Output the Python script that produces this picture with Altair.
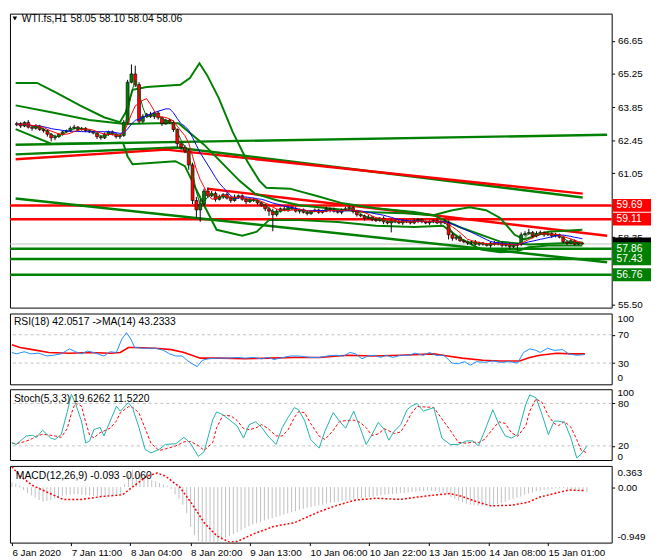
import altair as alt
import pandas as pd

# ---------------- data ----------------
first_open = 63.10
close = [
    63.15, 63.05, 63.20, 63.00, 62.95, 63.05, 62.90, 62.85, 62.70, 62.55,
    62.60, 62.70, 62.80, 62.85, 62.95, 63.00, 62.90, 62.95, 62.85, 62.80,
    62.75, 62.60, 62.55, 62.70, 62.80, 62.70, 62.60, 62.65, 63.20, 64.90,
    65.25, 64.80, 63.25, 63.45, 63.55, 63.45, 63.60, 63.40, 63.15, 63.30,
    63.20, 62.90, 62.30, 62.15, 62.00, 61.40, 59.90, 59.50, 59.75, 60.30,
    60.10, 60.20, 59.95, 60.05, 60.15, 60.00, 59.90, 60.05, 60.10, 59.95,
    59.85, 59.95, 59.90, 59.80, 59.70, 59.55, 59.45, 59.30, 59.45, 59.55,
    59.50, 59.60, 59.55, 59.45, 59.50, 59.40, 59.35, 59.45, 59.50, 59.40,
    59.45, 59.55, 59.50, 59.45, 59.40, 59.50, 59.55, 59.60, 59.45, 59.30,
    59.25, 59.15, 59.20, 59.10, 59.05, 59.15, 59.00, 58.95, 59.05, 59.00,
    58.95, 59.05, 59.00, 58.95, 59.05, 59.10, 59.00, 58.95, 59.00, 59.05,
    58.95, 59.00, 58.95, 58.45, 58.30, 58.35, 58.20, 58.15, 58.10, 58.15,
    58.05, 58.10, 58.05, 58.00, 58.10, 58.05, 58.10, 58.00, 58.05, 57.95,
    58.00, 58.05, 58.45, 58.50, 58.55, 58.40, 58.50, 58.55, 58.45, 58.50,
    58.40, 58.45, 58.35, 58.15, 58.10, 58.20, 58.05, 58.10, 58.06,
]
up_wick = [
    .08, .06, .05, .10, .06, .08, .05, .05, .06, .05,
    .08, .05, .06, .05, .08, .10, .05, .06, .05, .05,
    .06, .05, .05, .08, .05, .06, .05, .05, .10, .10,
    .40, .35, .10, .10, .05, .10, .06, .08, .05, .06,
    .05, .08, .05, .05, .10, .08, .10, .15, .20, .10,
    .15, .10, .08, .10, .06, .10, .08, .10, .05, .06,
    .08, .05, .06, .05, .05, .06, .08, .10, .08, .05,
    .10, .05, .06, .08, .05, .06, .05, .05, .06, .05,
    .06, .08, .05, .10, .05, .06, .08, .10, .05, .06,
    .05, .05, .10, .05, .06, .05, .08, .05, .06, .05,
    .08, .05, .06, .05, .10, .06, .05, .05, .06, .05,
    .08, .06, .10, .10, .08, .06, .10, .05, .06, .05,
    .08, .06, .05, .06, .05, .08, .05, .06, .05, .05,
    .06, .05, .10, .10, .15, .06, .10, .08, .05, .06,
    .05, .08, .05, .06, .05, .08, .05, .04, .04,
]
down_wick = [
    .06, .08, .05, .06, .10, .05, .06, .08, .10, .15,
    .10, .05, .06, .05, .06, .05, .08, .05, .06, .05,
    .05, .10, .08, .05, .06, .05, .08, .10, .06, .10,
    .05, .10, .10, .08, .05, .06, .10, .08, .10, .05,
    .06, .10, .15, .10, .10, .20, .15, .35, .50, .08,
    .10, .06, .10, .05, .08, .06, .10, .05, .08, .06,
    .10, .05, .06, .08, .06, .10, .20, .70, .08, .06,
    .05, .08, .05, .06, .10, .05, .08, .06, .05, .06,
    .05, .05, .10, .06, .05, .08, .05, .06, .10, .08,
    .06, .10, .05, .08, .06, .05, .10, .06, .40, .06,
    .05, .08, .05, .06, .05, .10, .06, .05, .08, .06,
    .05, .08, .05, .20, .10, .08, .06, .05, .08, .06,
    .05, .08, .06, .05, .10, .06, .05, .08, .06, .10,
    .06, .20, .08, .06, .05, .10, .06, .05, .08, .05,
    .08, .06, .05, .06, .08, .05, .06, .04, .03,
]

x_ticks = [0, 15.25, 30.5, 46, 61.25, 76.75, 92, 107.25, 122.75, 138]
x_labels = ["6 Jan 2020", "7 Jan 11:00", "8 Jan 04:00", "8 Jan 20:00", "9 Jan 13:00",
            "10 Jan 06:00", "10 Jan 22:00", "13 Jan 15:00", "14 Jan 08:00", "15 Jan 01:00"]
price_ticks = [66.65, 65.25, 63.85, 62.45, 61.05, 59.65, 58.35, 55.50]

red_levels = [59.69, 59.11]
green_levels = [57.86, 57.43, 56.76]
bid_price = 58.06

# band / average curves (bar, price)
band_upper = [(-0.3, 64.87), (5.3, 64.87), (10.3, 64.46), (16.5, 63.92), (22.8, 63.42), (27, 63.21),
              (28.5, 63.63), (30.3, 64.58), (34, 64.70), (42.8, 64.79), (45.3, 65.08), (47.8, 65.70),
              (49.8, 65.20), (52.8, 64.25), (56.5, 62.80), (60.3, 61.56), (63.5, 60.73), (65.3, 60.44),
              (71.5, 60.40), (79, 60.07), (85.3, 59.78), (94, 59.57), (104, 59.41), (109, 59.28),
              (114, 59.49), (118.5, 59.61), (122.8, 59.49), (126.5, 59.16), (130.3, 58.45),
              (132.8, 58.25), (139, 58.58), (148, 58.66)]
band_lower = [(-0.3, 62.92), (9, 62.30), (27.8, 62.34), (29, 61.76), (30.3, 61.43), (41.5, 61.56),
              (44, 61.35), (46.5, 60.52), (49, 59.70), (52.3, 58.66), (59, 58.41), (62.8, 58.58),
              (66, 59.07), (74, 59.07), (84, 58.99), (94, 58.83), (104, 58.78), (111.5, 58.83),
              (116.5, 58.25), (121.5, 57.83), (126.5, 57.71), (130.8, 57.75), (134, 57.92),
              (139, 58.00), (148, 58.00)]
slow_avg = [(-0.3, 63.92), (9, 63.63), (19, 63.30), (28.3, 63.13), (36.5, 63.17), (42.3, 63.17),
            (49, 62.26), (58.3, 60.73), (62.3, 60.19), (68.3, 59.90), (74, 59.70), (90.8, 59.41),
            (101.5, 59.36), (109, 59.28), (115.8, 58.78), (126.5, 58.16), (134, 58.04), (148, 58.12)]

trend_green_1 = [(-0.3, 62.26), (154.5, 62.68)]
trend_green_2 = [(-0.3, 61.85), (41.6, 62.14), (148.1, 60.03)]
trend_red_1 = [(-0.3, 61.64), (39.1, 62.05), (148.1, 60.19)]
trend_green_3 = [(-0.3, 59.98), (154.5, 57.29)]
trend_red_2 = [(49.9, 60.40), (154.5, 58.41)]

rsi_line = [(0, 45), (1.1, 43), (3.2, 46), (4.8, 43), (6.9, 44), (9, 40), (10.6, 41), (12.7, 43),
            (14.8, 50), (16.4, 46), (17.9, 43), (19.5, 47), (21.6, 44), (23.7, 40), (25.3, 46),
            (26.9, 45), (28.3, 64), (29.5, 73), (30.6, 64), (31.6, 52), (33.7, 51), (36.9, 51),
            (39, 48), (40.6, 43), (42.2, 40), (43.8, 40), (45.3, 33), (46.4, 29), (47.7, 25),
            (49, 34), (50.6, 36), (52.7, 37), (55.9, 37), (58, 38), (60.1, 37), (62.2, 38),
            (64.3, 36), (65.9, 38), (67.5, 35), (69, 37), (71.7, 40), (73.8, 40), (76.9, 38),
            (79.1, 38), (81.2, 40), (83.3, 41), (85.4, 40), (87, 45), (88.5, 43), (90.1, 36),
            (91.7, 40), (93.3, 41), (94.9, 38), (96.4, 41), (98, 38), (100.1, 41), (102.2, 41),
            (103.8, 44), (105.9, 41), (107.5, 45), (109.1, 41), (111.2, 41), (113.3, 30),
            (114.9, 29), (116.5, 32), (118, 27), (119.6, 32), (121.7, 31), (123.8, 33),
            (125.9, 31), (128.1, 32), (130.2, 30), (131.7, 45), (133.3, 50), (134.9, 48),
            (136, 45), (137.9, 51), (139.6, 48), (141.8, 49), (143.3, 43), (145.4, 41), (147.5, 42)]
rsi_avg = [(0, 56), (2.1, 52), (5.3, 49), (9.5, 45), (14.8, 44), (20, 45), (25.3, 44), (27.9, 45),
           (30, 52), (31.6, 52), (36.9, 51), (41.1, 49), (44.3, 45), (48.5, 37), (53.8, 37),
           (60.1, 36), (66.4, 37), (72.7, 38), (79.1, 38), (86.4, 41), (92.7, 40), (100.1, 41),
           (108.6, 43), (112.2, 40), (115.9, 37), (121.2, 34), (125.4, 33), (130.7, 33),
           (133.3, 38), (135.9, 41), (140.2, 44), (144.4, 43), (147.5, 43)]

stoch_main = [(0, 24), (1.1, 22), (3.7, 34), (5.3, 35), (6.3, 32), (7.9, 42), (10, 31), (11.1, 29),
              (12.7, 36), (14.2, 67), (15.3, 93), (16.3, 81), (17.9, 55), (19, 24), (20, 27),
              (21.1, 43), (22.7, 46), (23.7, 34), (25.3, 55), (26.9, 76), (27.9, 69), (30, 81),
              (31.1, 73), (32.7, 46), (34.3, 15), (35.8, 10), (37.9, 15), (39.5, 22), (42.2, 23),
              (44.3, 32), (45.9, 24), (48, 5), (49.5, 12), (51.7, 57), (52.7, 68), (54.3, 64),
              (56.4, 55), (58, 48), (59.6, 31), (61.1, 50), (62.7, 54), (64.3, 46), (65.9, 34),
              (68, 22), (69.6, 46), (71.1, 60), (72.7, 74), (73.8, 71), (75.4, 55), (76.9, 29),
              (79.1, 17), (80.6, 41), (82.7, 67), (84.3, 55), (85.9, 45), (88, 69), (89.6, 46),
              (91.2, 22), (92.7, 36), (94.3, 53), (95.9, 43), (97, 28), (98.5, 41), (100.1, 50),
              (101.7, 71), (102.8, 76), (104.3, 80), (105.9, 69), (108.6, 74), (110.7, 31),
              (112.8, 22), (114.9, 22), (117, 27), (118.6, 27), (120.1, 20), (121.7, 41),
              (123.8, 71), (125.4, 50), (127, 34), (128.6, 31), (130.2, 36), (132.3, 79),
              (133.3, 92), (134.9, 88), (136.5, 64), (138.1, 36), (139.6, 55), (140.7, 55),
              (142.3, 53), (143.9, 31), (145.4, 3), (146.5, 8), (148, 19.6)]

macd_hist = [
    0.08, 0.06, 0.03, -0.05, -0.10, -0.14, -0.18, -0.22, -0.25, -0.24,
    -0.22, -0.20, -0.17, -0.15, -0.14, -0.13, -0.12, -0.12, -0.13, -0.14,
    -0.14, -0.15, -0.16, -0.16, -0.15, -0.14, -0.13, -0.12, -0.11, 0.05,
    0.22, 0.30, 0.27, 0.22, 0.18, 0.15, 0.12, 0.10, 0.07, 0.05,
    0.02, -0.03, -0.12, -0.20, -0.30, -0.45, -0.68, -0.82, -0.92, -0.96,
    -0.97, -0.96, -0.95, -0.93, -0.90, -0.87, -0.84, -0.80, -0.77, -0.74,
    -0.70, -0.67, -0.64, -0.62, -0.60, -0.57, -0.55, -0.53, -0.51, -0.49,
    -0.47, -0.45, -0.43, -0.41, -0.39, -0.37, -0.35, -0.34, -0.32, -0.31,
    -0.30, -0.28, -0.27, -0.26, -0.25, -0.24, -0.23, -0.22, -0.21, -0.20,
    -0.19, -0.18, -0.17, -0.16, -0.15, -0.14, -0.13, -0.12, -0.12, -0.11,
    -0.10, -0.10, -0.09, -0.08, -0.08, -0.07, -0.07, -0.06, -0.06, -0.07,
    -0.08, -0.10, -0.13, -0.17, -0.20, -0.23, -0.26, -0.28, -0.30, -0.31,
    -0.32, -0.32, -0.32, -0.31, -0.30, -0.29, -0.27, -0.25, -0.22, -0.20,
    -0.18, -0.16, -0.13, -0.11, -0.09, -0.07, -0.06, -0.05, -0.04, -0.03,
    -0.02, -0.02, -0.02, -0.03, -0.04, -0.05, -0.06, -0.08, -0.09,
]
macd_signal = [(0, 0.35), (2.1, 0.19), (5.3, 0.03), (9.5, -0.10), (13.2, -0.21), (17.9, -0.21),
               (23.2, -0.16), (28.5, -0.13), (31.6, 0.03), (34.8, 0.19), (37.4, 0.24), (39.5, 0.19),
               (43.2, 0.0), (46.4, -0.29), (49.5, -0.61), (52.7, -0.83), (55.9, -0.94), (58, -0.93),
               (62.2, -0.80), (67.5, -0.67), (72.7, -0.61), (79.1, -0.42), (83.3, -0.32),
               (88.5, -0.22), (93.8, -0.19), (100.1, -0.21), (104.3, -0.17), (109.6, -0.13),
               (112.8, -0.11), (115.9, -0.16), (120.1, -0.26), (123.3, -0.32), (128.6, -0.31),
               (132.8, -0.26), (135.9, -0.17), (140.2, -0.10), (143.3, -0.05), (147.5, -0.06)]

title_text = "WTI.fs,H1  58.05 58.10 58.04 58.06"
rsi_text = "RSI(18) 42.0517  ->MA(14) 43.2333"
stoch_text = "Stoch(5,3,3) 19.6262 11.5220"
macd_text = "MACD(12,26,9) -0.093 -0.060"

# edge labels of the sub-windows: (text, offset from panel top in px)
rsi_edge = [("100", 6), ("0", 66)]
stoch_edge = [("100", 4), ("0", 69)]
macd_edge = [("0.363", 7), ("-0.949", 72)]

# ---------------- tables ----------------
n = len(close)
opens = [first_open] + close[:-1]
candles = pd.DataFrame({
    "bar": list(range(n)),
    "open": opens,
    "close": close,
    "high": [max(o, c) + u for o, c, u in zip(opens, close, up_wick)],
    "low": [min(o, c) - d for o, c, d in zip(opens, close, down_wick)],
})
hist_df = pd.DataFrame({"bar": list(range(n)), "h": macd_hist, "zero": [0.0] * n})

FONT = "Liberation Sans"
W = 612
GREEN = "#008000"
RED = "#ff0000"

xs = alt.Scale(domain=[-0.5, 154.4], nice=False, zero=False)


def X(field="bar", axis=None):
    return alt.X(f"{field}:Q", scale=xs, axis=axis)


ys_main = alt.Scale(domain=[55.37, 67.80], nice=False, zero=False)
axis_main = alt.Axis(orient="right", values=price_ticks, format=".2f", tickSize=3, title=None,
                     labelOverlap=False, labelFlush=False, labelPadding=3)


def YM(field):
    return alt.Y(f"{field}:Q", scale=ys_main, axis=axis_main)


def pts_df(pts):
    return pd.DataFrame(pts, columns=["bar", "v"])


def curve(pts, color, width, yfun, dash=None, xaxis=None):
    kw = dict(color=color, strokeWidth=width, clip=True)
    if dash:
        kw["strokeDash"] = dash
    return alt.Chart(pts_df(pts)).mark_line(**kw).encode(x=X(axis=xaxis), y=yfun("v"))


def panel_text(txt, x, y):
    return alt.Chart(pd.DataFrame({"t": [txt]})).mark_text(
        align="left", baseline="middle", fontSize=10.5, color="black").encode(
        x=alt.value(x), y=alt.value(y), text="t:N")


def edge_labels(items):
    df = pd.DataFrame(items, columns=["t", "py"])
    return alt.Chart(df).mark_text(align="left", baseline="middle", fontSize=10,
                                   color="black").encode(
        x=alt.value(W + 6), y=alt.Y("py:Q", scale=None), text="t:N")


# ---------------- main panel ----------------
levels = pd.DataFrame({"price": red_levels + green_levels,
                       "col": [RED] * len(red_levels) + [GREEN] * len(green_levels)})
level_rules = alt.Chart(levels).mark_rule(strokeWidth=2.5).encode(
    y=YM("price"), color=alt.Color("col:N", scale=None))
bid_rule = alt.Chart(pd.DataFrame({"price": [bid_price]})).mark_rule(
    color="#c0c0c0", strokeWidth=1).encode(y=YM("price"))

trend_layers = [
    curve(trend_green_1, GREEN, 2.5, YM),
    curve(trend_green_2, GREEN, 2.5, YM),
    curve(trend_red_1, RED, 2.5, YM),
    curve(trend_green_3, GREEN, 2.5, YM),
    curve(trend_red_2, RED, 2.5, YM),
]
band_layers = [
    curve(band_upper, GREEN, 2, YM),
    curve(band_lower, GREEN, 2, YM),
    curve(slow_avg, GREEN, 2, YM),
]

cbase = alt.Chart(candles)
wicks = cbase.mark_rule(color="black", strokeWidth=1, clip=True).encode(
    x=X(), y=YM("low"), y2="high")
bodies = cbase.mark_bar(size=3, stroke="black", strokeWidth=0.6, clip=True).encode(
    x=X(), y=YM("open"), y2="close",
    color=alt.condition("datum.close >= datum.open", alt.value(GREEN), alt.value(RED)))


def sma(period, color):
    return cbase.transform_window(
        m="mean(close)", frame=[-(period - 1), 0], sort=[alt.SortField("bar")]
    ).mark_line(color=color, strokeWidth=1, clip=True).encode(x=X(), y=YM("m"))


ma_layers = [sma(3, "#006400"), sma(12, "#0000ff"), sma(6, RED)]

boxes = pd.DataFrame({
    "price": [bid_price] + red_levels + green_levels,
    "label": ["", "59.69", "59.11", "57.86", "57.43", "56.76"],
    "col": ["#000000", RED, RED, GREEN, GREEN, GREEN],
})
box_rects = alt.Chart(boxes).transform_calculate(
    top="datum.price + 0.27", bot="datum.price - 0.27"
).mark_rect().encode(
    x=alt.value(613), x2=alt.value(652), y=YM("top"), y2="bot",
    color=alt.Color("col:N", scale=None))
box_texts = alt.Chart(boxes).transform_filter("datum.label != ''").mark_text(
    align="left", baseline="middle", color="white", fontSize=10.5).encode(
    x=alt.value(617), y=YM("price"), text="label:N")

tdf = pd.DataFrame({"t": [title_text]})
tri_mark = alt.Chart(tdf).mark_point(shape="triangle-down", filled=True, color="black",
                                     size=22, opacity=1).encode(
    x=alt.value(5), y=alt.value(5))

main = alt.layer(
    level_rules, bid_rule, *trend_layers, *band_layers, wicks, bodies, *ma_layers,
    box_rects, box_texts, panel_text(title_text, 12, 5), tri_mark
).properties(width=W, height=299)

# ---------------- RSI panel ----------------
ys_rsi = alt.Scale(domain=[0, 100], nice=False, zero=False)
axis_rsi = alt.Axis(orient="right", values=[30, 70], tickSize=3, title=None,
                    labelOverlap=False, labelPadding=3)


def YR(field):
    return alt.Y(f"{field}:Q", scale=ys_rsi, axis=axis_rsi)


rsi_levels = alt.Chart(pd.DataFrame({"lv": [30, 70]})).mark_rule(
    color="#c0c0c0", strokeDash=[3, 3], strokeWidth=1).encode(y=YR("lv"))
rsi_chart = alt.layer(
    rsi_levels,
    curve(rsi_avg, RED, 1.6, YR),
    curve(rsi_line, "#1e90ff", 1, YR),
    panel_text(rsi_text, 4, 9),
    edge_labels(rsi_edge),
).properties(width=W, height=72)

# ---------------- Stochastic panel ----------------
axis_st = alt.Axis(orient="right", values=[20, 80], tickSize=3, title=None,
                   labelOverlap=False, labelPadding=3)


def YS(field):
    return alt.Y(f"{field}:Q", scale=alt.Scale(domain=[0, 100], nice=False, zero=False),
                 axis=axis_st)


st_levels = alt.Chart(pd.DataFrame({"lv": [20, 80]})).mark_rule(
    color="#c0c0c0", strokeDash=[3, 3], strokeWidth=1).encode(y=YS("lv"))
st_df = pts_df(stoch_main)
st_signal = alt.Chart(st_df).transform_window(
    d="mean(v)", frame=[-2, 0], sort=[alt.SortField("bar")]
).mark_line(color=RED, strokeDash=[3, 2], strokeWidth=1, clip=True).encode(x=X(), y=YS("d"))
stoch_chart = alt.layer(
    st_levels,
    st_signal,
    curve(stoch_main, "#20b2aa", 1, YS),
    panel_text(stoch_text, 4, 10),
    edge_labels(stoch_edge),
).properties(width=W, height=72)

# ---------------- MACD panel ----------------
axis_macd = alt.Axis(orient="right", values=[0], tickSize=3, title=None,
                     labelOverlap=False, labelPadding=3, format=".2f")


def YD(field):
    return alt.Y(f"{field}:Q", scale=alt.Scale(domain=[-0.949, 0.363], nice=False, zero=False),
                 axis=axis_macd)


label_expr = " : ".join(f"datum.value == {v} ? '{l}'" for v, l in zip(x_ticks, x_labels)) + " : ''"
x_axis = alt.Axis(values=x_ticks, labelExpr=label_expr, labelAlign="left", labelFlush=False,
                  tickSize=3, labelPadding=2, title=None, labelOverlap=False, orient="bottom")

hist = alt.Chart(hist_df).mark_rule(color="#c0c0c0", strokeWidth=1, clip=True).encode(
    x=X(axis=x_axis), y=YD("h"), y2="zero")
macd_chart = alt.layer(
    hist,
    curve(macd_signal, RED, 1.5, YD, dash=[2, 2], xaxis=x_axis),
    panel_text(macd_text, 6, 10),
    edge_labels(macd_edge),
).properties(width=W, height=78)

chart = alt.vconcat(main, rsi_chart, stoch_chart, macd_chart, spacing=2,
                    padding=0, background="white").configure_view(
    stroke="black", strokeWidth=1
).configure_axis(
    labelFont=FONT, labelFontSize=10, labelColor="black", tickColor="black",
    domain=False, grid=False
).configure_text(font=FONT)

chart.save("out.html", embed_options={"renderer": "svg", "actions": False})
